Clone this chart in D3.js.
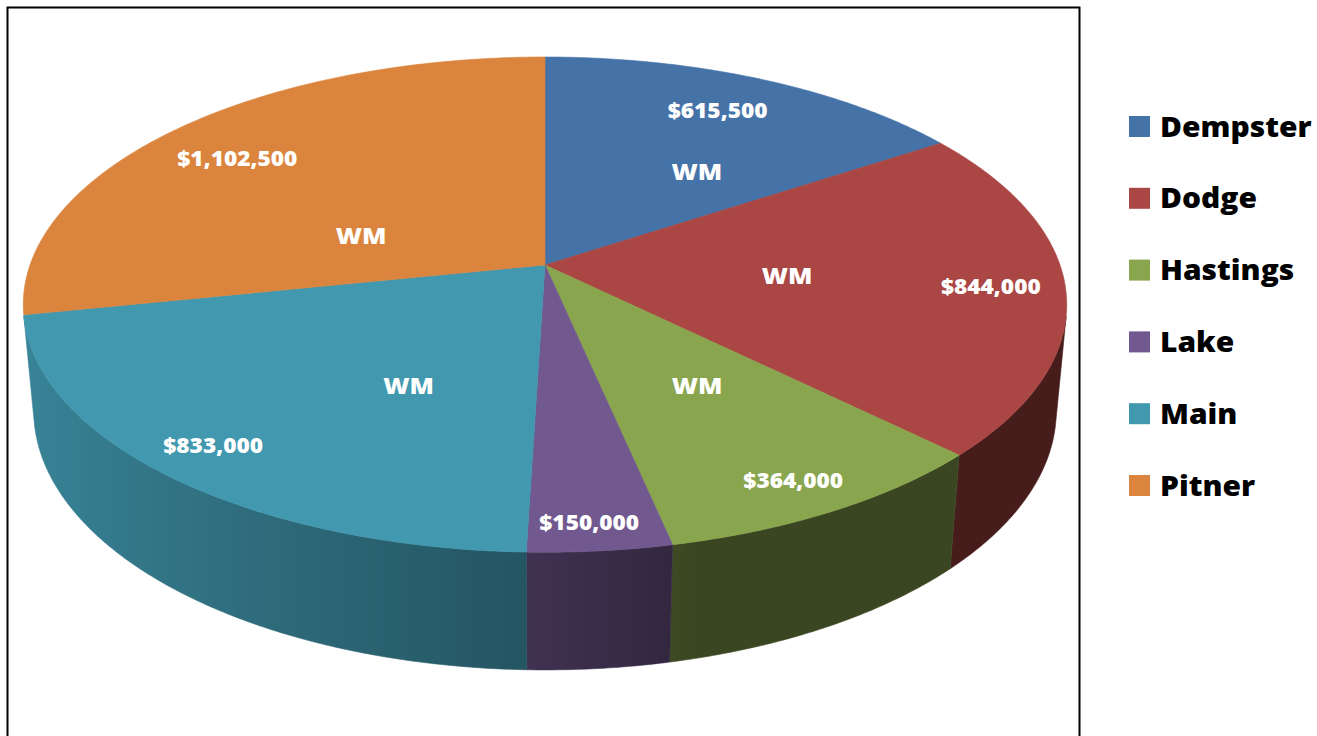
<!DOCTYPE html>
<html>
<head>
<meta charset="utf-8">
<script src="https://cdn.jsdelivr.net/npm/d3@7"></script>
<style>
  html, body { margin: 0; padding: 0; background: #ffffff; }
  svg { display: block; }
</style>
</head>
<body>
<svg id="chart" width="1317" height="736"></svg>
<script>
// ---- data ----
const categories = ["Dempster", "Dodge", "Hastings", "Lake", "Main", "Pitner"];
const values = [615500, 844000, 364000, 150000, 833000, 1102500];
const innerLabels = ["WM", "WM", "WM", "", "WM", "WM"];

// ---- styles / layout ----
const colors = ["#4572A7", "#AA4643", "#89A54E", "#71588F", "#4198AF", "#DB843D"];
const valueLabelFrac = [0.487, 0.505, 0.513, 0.54, 0.509, 0.474];
const valueLabelRadius = [0.806, 0.858, 0.887, 0.913, 0.881, 0.801];
const innerLabelFrac = [0.66, 0.50, 0.45, 0.5, 0.34, 0.297];
const innerLabelRadius = [0.517, 0.469, 0.539, 0.5, 0.525, 0.384];

const svg = d3.select("#chart");
const defs = svg.append("defs");

// frame
svg.append("rect")
  .attr("x", 7.5).attr("y", 7.5)
  .attr("width", 1072).attr("height", 760)
  .attr("fill", "none").attr("stroke", "#000").attr("stroke-width", 2);

// ---- 3D projection of the pie ----
const cx = 545, cy = 265;
const sinA = 0.4685, cosA = Math.sqrt(1 - sinA * sinA);
const Dcam = 0.8834 / 0.16;
const Fcam = 515 * Dcam;
const thick = 0.235;

function project(X, Y, Z) {
  const d = Dcam - (Y * sinA + Z * cosA);
  return [cx + Fcam * X / d, cy - Fcam * (Y * cosA - Z * sinA) / d];
}
function pt(a, r, Y) { return project(r * Math.sin(a), Y, -r * Math.cos(a)); }

const pie = d3.pie().sort(null).value(d => d.value).startAngle(0).endAngle(2 * Math.PI);
const data = categories.map((c, i) => ({ cat: c, value: values[i], i }));
const arcs = pie(data);
const color = d3.scaleOrdinal().domain(categories).range(colors);
const fmt = d3.format("$,");

// side walls (front-facing part only), shaded by the direction of the normal
const facingA0 = Math.acos(-1 / (Dcam * cosA));          // right limit
const facingA1 = 2 * Math.PI - facingA0;                  // left limit
function shade(base, X) {
  const f = X < 0 ? 0.55 - 0.33 * X : Math.max(0.42, 0.55 - 0.5 * X);
  const c = d3.rgb(base);
  return d3.rgb(c.r * f, c.g * f, c.b * f).formatHex();
}
const wallG = svg.append("g");
arcs.forEach((a, k) => {
  const t0 = Math.max(a.startAngle, facingA0);
  const t1 = Math.min(a.endAngle, facingA1);
  if (t1 <= t0) return;
  const n = Math.max(2, Math.ceil((t1 - t0) / (Math.PI / 360)));
  const topPts = [], botPts = [], angs = [];
  for (let j = 0; j <= n; j++) {
    const t = t0 + (t1 - t0) * j / n;
    angs.push(t);
    topPts.push(pt(t, 1, 0));
    botPts.push(pt(t, 1, -thick));
  }
  const xs = topPts.map(p => p[0]);
  const xmin = d3.min(xs), xmax = d3.max(xs);
  const gid = "wall" + k;
  const grad = defs.append("linearGradient").attr("id", gid)
    .attr("gradientUnits", "userSpaceOnUse")
    .attr("x1", xmin).attr("x2", xmax).attr("y1", 0).attr("y2", 0);
  const stops = angs.map((t, j) => ({ off: (xs[j] - xmin) / (xmax - xmin), col: shade(color(a.data.cat), Math.sin(t)) }))
    .sort((p, q) => p.off - q.off);
  stops.forEach(s => grad.append("stop").attr("offset", s.off).attr("stop-color", s.col));
  const poly = topPts.concat(botPts.slice().reverse());
  wallG.append("path")
    .attr("d", d3.line()(poly) + "Z")
    .attr("fill", `url(#${gid})`)
    .attr("stroke", `url(#${gid})`).attr("stroke-width", 0.6);
});

// top faces
const topG = svg.append("g");
arcs.forEach(a => {
  const n = Math.max(2, Math.ceil((a.endAngle - a.startAngle) / (Math.PI / 360)));
  const p = [project(0, 0, 0)];
  for (let j = 0; j <= n; j++) {
    p.push(pt(a.startAngle + (a.endAngle - a.startAngle) * j / n, 1, 0));
  }
  topG.append("path")
    .attr("d", d3.line()(p) + "Z")
    .attr("fill", color(a.data.cat))
    .attr("stroke", color(a.data.cat)).attr("stroke-width", 0.6);
});

// labels
const labG = svg.append("g")
  .attr("font-family", "'Open Sans', sans-serif")
  .attr("font-weight", 800)
  .attr("fill", "#ffffff");
arcs.forEach(a => {
  const i = a.data.i;
  const span = a.endAngle - a.startAngle;
  const vp = pt(a.startAngle + span * valueLabelFrac[i], valueLabelRadius[i], 0);
  labG.append("text")
    .attr("transform", `translate(${vp[0]},${vp[1]}) scale(1.08,1)`)
    .attr("text-anchor", "middle").attr("dy", "0.36em")
    .attr("font-size", 21)
    .text(fmt(a.data.value));
  if (innerLabels[i]) {
    const ip = pt(a.startAngle + span * innerLabelFrac[i], innerLabelRadius[i], 0);
    labG.append("text")
      .attr("transform", `translate(${ip[0]},${ip[1]}) scale(1.1,1)`)
      .attr("text-anchor", "middle").attr("dy", "0.36em")
      .attr("font-size", 23)
      .text(innerLabels[i]);
  }
});

// legend
const legY = d3.scalePoint().domain(categories).range([126.5, 485.5]);
const leg = svg.append("g");
categories.forEach(c => {
  const y = legY(c);
  leg.append("rect")
    .attr("x", 1129).attr("y", y - 10.5)
    .attr("width", 21).attr("height", 21)
    .attr("fill", color(c));
  leg.append("text")
    .attr("transform", `translate(1160,${y}) scale(1.07,1)`)
    .attr("dy", "0.36em")
    .attr("font-family", "'Open Sans', sans-serif")
    .attr("font-weight", 800)
    .attr("font-size", 28)
    .attr("fill", "#000")
    .text(c);
});
</script>
</body>
</html>
